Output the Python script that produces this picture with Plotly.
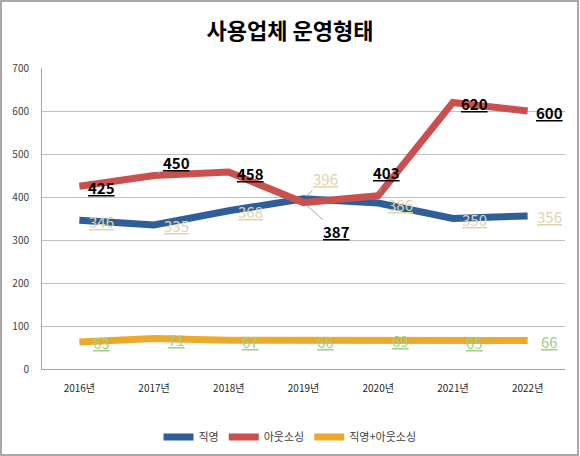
import plotly.graph_objects as go

categories = ["2016년", "2017년", "2018년", "2019년", "2020년", "2021년", "2022년"]
direct = [346, 335, 368, 396, 386, 350, 356]
outsourcing = [425, 450, 458, 387, 403, 620, 600]
both = [63, 71, 67, 66, 69, 65, 66]
series_names = ["직영", "아웃소싱", "직영+아웃소싱"]
y_ticks = [0, 100, 200, 300, 400, 500, 600, 700]

colors = ["#2E5F99", "#C9504F", "#EBAA2C"]
label_colors = ["#E0D3AC", "#000000", "#A2CE85"]
label_bold = [False, True, False]

# label offsets in pixels (dx, dy screen-down), default right of point
default_off = (22, 1)
special_off = {
    (0, 3): (22, -20, True),
    (1, 1): (22, -13, True),
    (1, 3): (33, 29, True),
    (1, 4): (8, -23, True),
}

FONT = "Noto Sans CJK KR"
W, H = 580, 456
ML, MR, MT, MB = 42, 15, 68, 87
PW, PH = W - ML - MR, H - MT - MB

fig = go.Figure()
all_series = [direct, outsourcing, both]
for s, (vals, name) in enumerate(zip(all_series, series_names)):
    fig.add_trace(go.Scatter(
        x=categories, y=vals, name=name, mode="lines",
        line=dict(color=colors[s], width=7),
        hoverinfo="skip",
    ))

annotations = []
for s, vals in enumerate(all_series):
    for i, v in enumerate(vals):
        txt = f"<u>{v}</u>"
        if label_bold[s]:
            txt = f"<b><u>{v}</u></b>"
        if (s, i) in special_off:
            dx, dy, leader = special_off[(s, i)]
        else:
            dx, dy = default_off
            leader = False
        if leader:
            annotations.append(dict(
                x=categories[i], y=v, xref="x", yref="y", text=txt,
                showarrow=True, arrowhead=0, arrowwidth=1, arrowcolor="#A6A6A6",
                ax=dx, ay=dy, standoff=4,
                font=dict(family=FONT, size=15, color=label_colors[s]),
            ))
        else:
            annotations.append(dict(
                x=categories[i], y=v, xref="x", yref="y", text=txt,
                showarrow=False, xshift=dx, yshift=-dy,
                font=dict(family=FONT, size=15, color=label_colors[s]),
            ))

# figure border
shapes = [dict(
    type="rect", xref="paper", yref="paper",
    x0=(1 - ML) / PW, x1=(W - 2 - ML) / PW,
    y0=-(MB - 1) / PH, y1=1 + (MT - 1) / PH,
    line=dict(color="#8C8C8C", width=1.5), fillcolor="rgba(0,0,0,0)",
    layer="below",
)]

fig.update_layout(
    width=W, height=H,
    margin=dict(l=ML, r=MR, t=MT, b=MB, autoexpand=False),
    paper_bgcolor="white", plot_bgcolor="white",
    title=dict(text="<b>사용업체 운영형태</b>", x=290 / W, xref="container", xanchor="center",
               y=1 - 31 / H, yanchor="middle",
               font=dict(family=FONT, size=22, color="#000000")),
    font=dict(family=FONT, color="#404040"),
    xaxis=dict(
        type="category", range=[-0.5, 6.5], showgrid=False,
        showline=True, linecolor="#A6A6A6", linewidth=1,
        ticks="", tickfont=dict(family=FONT, size=10, color="#262626"),
        ticklabelstandoff=10, zeroline=False, fixedrange=True,
    ),
    yaxis=dict(
        range=[0, 700], tickvals=y_ticks, showgrid=True, gridcolor="#BFBFBF",
        gridwidth=1, showline=True, linecolor="#A6A6A6", linewidth=1,
        ticks="", tickfont=dict(family=FONT, size=10, color="#404040"),
        ticklabelstandoff=10, zeroline=False, fixedrange=True,
    ),
    legend=dict(
        orientation="h", x=0.5, xanchor="center", xref="container",
        y=1 - 437 / H, yanchor="middle", yref="container",
        font=dict(family=FONT, size=11, color="#404040"),
        itemwidth=30, tracegroupgap=0,
    ),
    annotations=annotations,
    shapes=shapes,
    showlegend=True,
)

fig.write_html("out.html", config={"displayModeBar": False},
               post_script="document.body.style.margin='0';document.body.style.padding='0';")
